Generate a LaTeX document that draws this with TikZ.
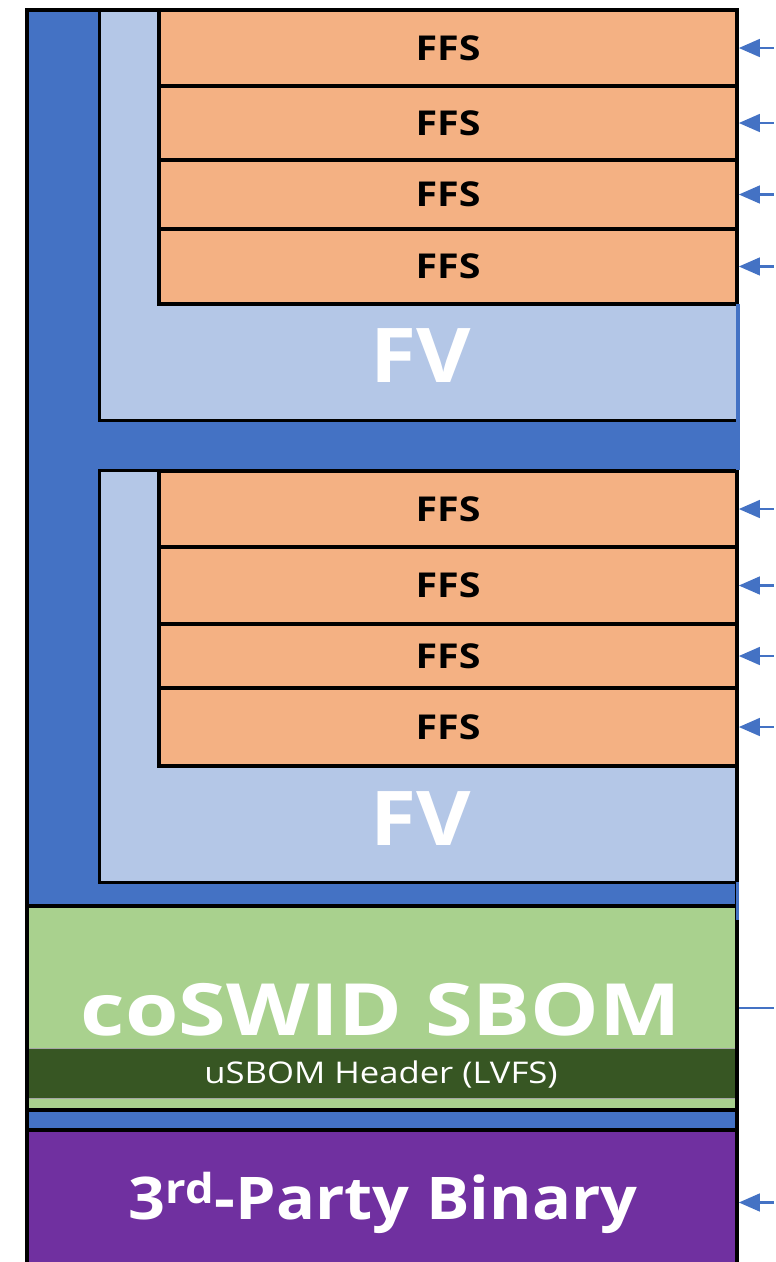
\documentclass[tikz,border=0pt]{standalone}
\usepackage{fontspec}
\setmainfont{Open Sans}
\usepackage{graphicx}
\usepackage{tikz}
\usetikzlibrary{arrows.meta, positioning, fit}
\definecolor{fwblue}{HTML}{4472C4}
\definecolor{fvlight}{HTML}{B4C7E7}
\definecolor{ffsorange}{HTML}{F4B183}
\definecolor{sbomgreen}{HTML}{A9D18E}
\definecolor{hdrgreen}{HTML}{375623}
\definecolor{binpurple}{HTML}{7030A0}
\newcommand{\widetext}[2]{\scalebox{#1}[1]{#2}}

\begin{document}
\begin{tikzpicture}[
		x=0.02cm, y=-0.02cm,
		edge/.style={draw=black, line width=2pt},
		ffsbox/.style={rectangle, draw=black, line width=2pt, fill=ffsorange, inner sep=0pt, label={[ffslbl]center:\widetext{1.15}{FFS}}},
		ffslbl/.style={font=\fontsize{19.5}{19.5}\selectfont\bfseries, inner sep=0pt},
		fvbox/.style={rectangle, fill=fvlight, inner sep=0pt},
		regionbox/.style={rectangle, draw=black, line width=2pt, inner sep=0pt},
		bigtext/.style={text=white, font=\fontsize{43}{43}\selectfont\bfseries, anchor=base, inner sep=0pt},
		arr/.style={draw=fwblue, line width=1.6pt, -{Triangle[length=12pt,width=10pt]}},
		link/.style={draw=fwblue, line width=1.6pt}
		]
		\useasboundingbox (0,0) rectangle (775,1262);
		
		% outer firmware image
		\fill[fwblue] (27,10) rectangle (737,906);
		
		% first volume
		\node[fvbox, fit={(100,10) (737,420)}] (fv1) {};
		\draw[edge] (fv1.north east) -- (fv1.north west) -- (fv1.south west) -- (fv1.south east);
		\node[ffsbox, fit={(159,10) (737,86)}] (f1) {};
		\node[ffsbox, fit={(159,86) (737,160)}] (f2) {};
		\node[ffsbox, fit={(159,160) (737,229)}] (f3) {};
		\node[ffsbox, fit={(159,229) (737,304)}] (f4) {};
		\node[bigtext] (fvlbl1) at (421,382) {\widetext{1.11}{FV}};
		
		% second volume
		\node[fvbox, fit={(100,471) (737,882)}] (fv2) {};
		\draw[edge] (fv2.north east) -- (fv2.north west) -- (fv2.south west) -- (fv2.south east) -- cycle;
		\node[ffsbox, fit={(159,471) (737,547)}] (f5) {};
		\node[ffsbox, fit={(159,547) (737,624)}] (f6) {};
		\node[ffsbox, fit={(159,624) (737,688)}] (f7) {};
		\node[ffsbox, fit={(159,688) (737,766)}] (f8) {};
		\node[bigtext] (fvlbl2) at (421,845) {\widetext{1.11}{FV}};
		
		% SBOM section
		\node[regionbox, fill=sbomgreen, fit={(27,906) (737,1110)}] (sbom) {};
		\node[bigtext, font=\fontsize{41}{41}\selectfont\bfseries] (sbomlbl) at (381,1035) {\widetext{1.2}{coSWID SBOM}};
		\node[rectangle, draw=gray!70, thin, fill=hdrgreen, inner sep=0pt, fit={(27,1048) (738,1098)}] (hdr) {};
		\node[text=white, font=\fontsize{17}{17}\selectfont, anchor=base] (hdrlbl) at (381,1083) {\widetext{1.16}{uSBOM Header (LVFS)}};
		
		% padding and binary
		\node[regionbox, fill=fwblue, fit={(27,1110) (737,1130)}] (pad) {};
		\node[regionbox, fill=binpurple, fit={(27,1130) (737,1290)}] (bin) {};
		\node[bigtext, font=\fontsize{33.5}{33.5}\selectfont\bfseries] (binlbl) at (383,1219) {\widetext{1.1}{3\textsuperscript{rd}-Party Binary}};
		
		% outer border
		\draw[edge] (737,10) -- (27,10) -- (27,1290);
		\draw[edge] (737,766) -- (737,1290);
		\fill[fwblue] (735.5,304) rectangle (739.5,470);
		\fill[fwblue] (735.5,882) rectangle (738.5,920);
		
		% pointers
		\foreach \i in {1,...,8} {
			\coordinate[right=0.7cm of f\i.east] (a\i);
			\draw[arr] (a\i) -- (f\i.east);
		}
		\coordinate[right=0.7cm of bin.east] (ab);
		\draw[arr] (ab |- binlbl.center) -- (bin.east |- binlbl.center);
		\coordinate[right=0.7cm of sbom.east] (as);
		\draw[link] (as) -- (sbom.east);
\end{tikzpicture}
\end{document}
